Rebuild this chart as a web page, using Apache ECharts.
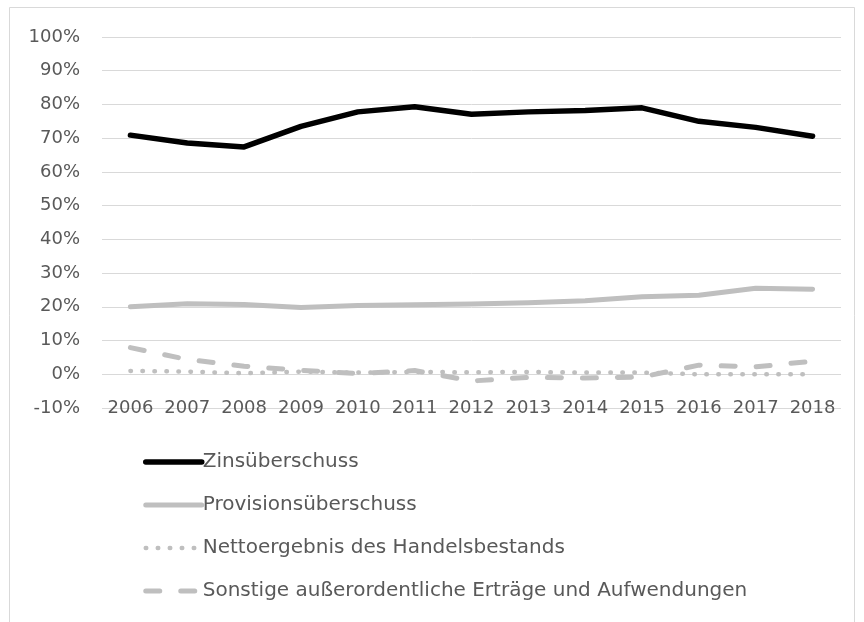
<!DOCTYPE html>
<html>
<head>
<meta charset="utf-8">
<script src="https://cdn.jsdelivr.net/npm/echarts@6/dist/echarts.min.js"></script>
<style>
  html, body { margin: 0; padding: 0; background: #fff; }
  #chart { width: 864px; height: 622px; }
</style>
</head>
<body>
<div id="chart"></div>
<script>
  // Jahre (x-Achse)
  var years = ['2006', '2007', '2008', '2009', '2010', '2011', '2012', '2013', '2014', '2015', '2016', '2017', '2018'];
  // Anteile in %
  var zins = [70.9, 68.6, 67.4, 73.5, 77.8, 79.3, 77.1, 77.8, 78.2, 79.0, 75.0, 73.2, 70.6];
  var provision = [20.0, 20.9, 20.7, 19.8, 20.4, 20.6, 20.8, 21.2, 21.8, 23.0, 23.4, 25.5, 25.2];
  var handel = [1.0, 0.8, 0.3, 0.8, 0.5, 0.7, 0.6, 0.7, 0.5, 0.5, 0.0, 0.0, 0.0];
  var sonstige = [7.9, 4.4, 2.4, 1.2, 0.2, 1.1, -2.0, -0.9, -1.1, -0.8, 2.7, 2.2, 3.9];
  var yTicks = { min: -10, max: 100, step: 10 };

  var font = 'DejaVu Sans';
  var grey = '#595959';
  var styles = {
    zins: { color: '#000000', width: 5.5, type: 'solid' },
    provision: { color: '#bfbfbf', width: 5, type: 'solid' },
    handel: { color: '#bfbfbf', width: 4.5, type: [0.5, 11.5] },
    sonstige: { color: '#bfbfbf', width: 5, type: [14, 21] }
  };
  function ls(s) {
    return { color: s.color, width: s.width, type: s.type, cap: 'round', join: 'round' };
  }

  var myChart = echarts.init(document.getElementById('chart'));
  myChart.setOption({
    backgroundColor: '#ffffff',
    animation: false,
    graphic: [{
      type: 'rect',
      shape: { x: 9.5, y: 7.5, width: 845, height: 640 },
      style: { fill: 'none', stroke: '#d9d9d9', lineWidth: 1 }
    }],
    grid: { left: 102, right: 23, top: 37, bottom: 214 },
    legend: {
      orient: 'vertical',
      left: 138,
      top: 447,
      itemWidth: 56,
      itemHeight: 10,
      itemGap: 23,
      itemStyle: { opacity: 0 },
      textStyle: { fontFamily: font, fontSize: 20, color: grey, padding: [0, 0, 0, -4] },
      data: [
        { name: 'Zinsüberschuss', lineStyle: ls(styles.zins) },
        { name: 'Provisionsüberschuss', lineStyle: ls(styles.provision) },
        { name: 'Nettoergebnis des Handelsbestands', lineStyle: ls(styles.handel) },
        { name: 'Sonstige außerordentliche Erträge und Aufwendungen', lineStyle: ls(styles.sonstige) }
      ]
    },
    xAxis: {
      type: 'category',
      data: years,
      boundaryGap: true,
      axisLine: { show: false },
      axisTick: { show: false },
      axisLabel: { fontFamily: font, fontSize: 18, color: grey, margin: 0, verticalAlign: 'middle', interval: 0 }
    },
    yAxis: {
      type: 'value',
      min: yTicks.min,
      max: yTicks.max,
      interval: yTicks.step,
      axisLine: { show: false },
      axisTick: { show: false },
      axisLabel: { fontFamily: font, fontSize: 18, color: grey, margin: 22, formatter: '{value}%' },
      splitLine: { lineStyle: { color: '#d9d9d9', width: 1 } }
    },
    series: [
      { name: 'Zinsüberschuss', type: 'line', data: zins, symbol: 'none',
        itemStyle: { color: styles.zins.color }, lineStyle: ls(styles.zins) },
      { name: 'Provisionsüberschuss', type: 'line', data: provision, symbol: 'none',
        itemStyle: { color: styles.provision.color }, lineStyle: ls(styles.provision) },
      { name: 'Nettoergebnis des Handelsbestands', type: 'line', data: handel, symbol: 'none',
        itemStyle: { color: styles.handel.color }, lineStyle: ls(styles.handel) },
      { name: 'Sonstige außerordentliche Erträge und Aufwendungen', type: 'line', data: sonstige, symbol: 'none',
        itemStyle: { color: styles.sonstige.color }, lineStyle: ls(styles.sonstige) }
    ]
  });
</script>
</body>
</html>
